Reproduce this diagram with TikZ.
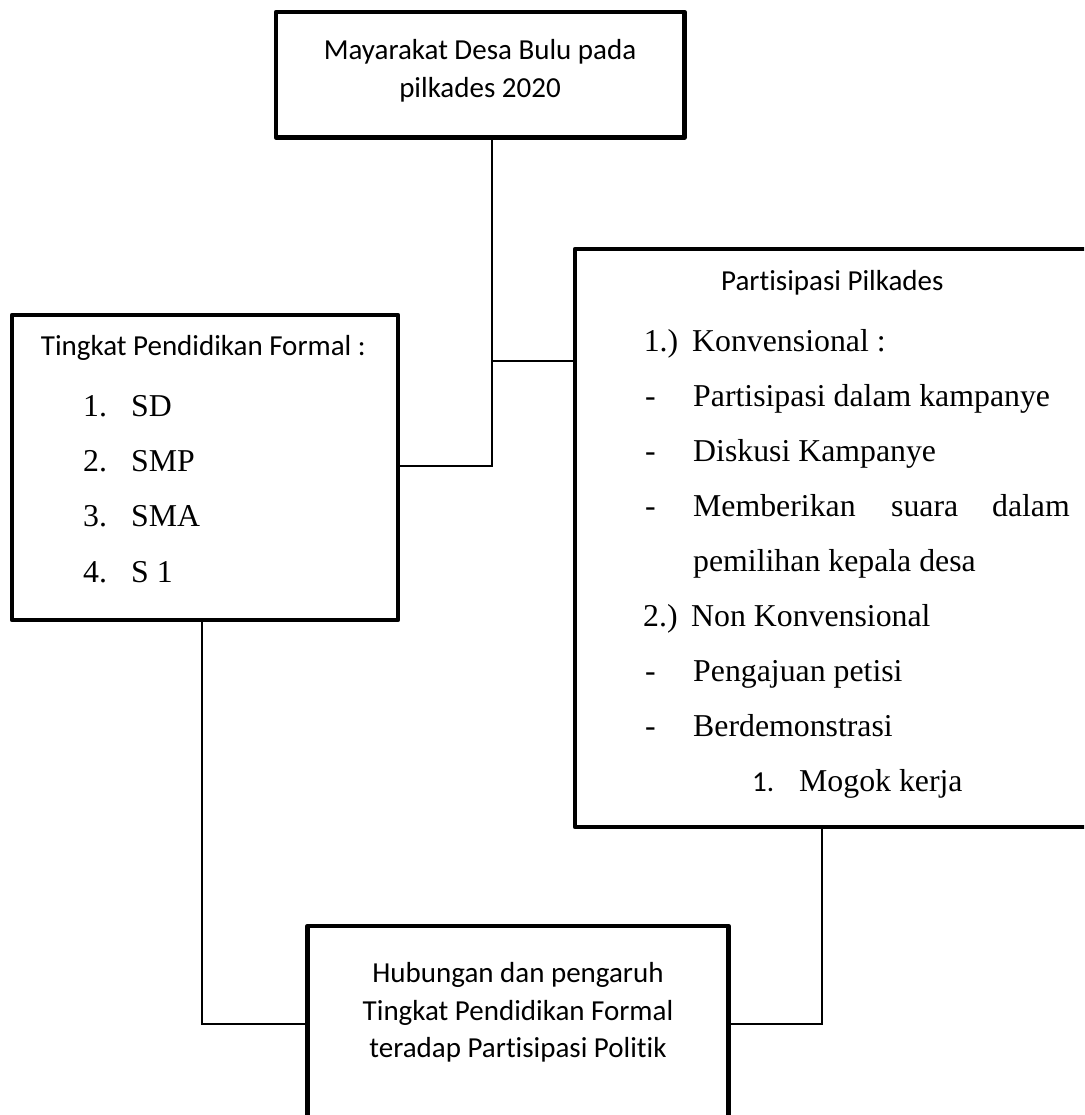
\documentclass[tikz,border=0pt]{standalone}
\usepackage{fontspec}
\setmainfont{Liberation Serif}
\newfontfamily\calfont[Ligatures=NoCommon]{Carlito}
\begin{document}
\begin{tikzpicture}[x=1pt,y=-1pt,
  box/.style={draw=black,line width=4.5pt,line join=round,rectangle,inner sep=0pt,outer sep=0pt,anchor=north west},
  conn/.style={draw=black,line width=1.3pt},
  cal/.style={font=\calfont\fontsize{29}{35}\selectfont,inner sep=0pt},
  tms/.style={font=\fontsize{31.8}{38}\selectfont,inner sep=0pt},
]
\useasboundingbox (0,0) rectangle (1084,1115);
\clip (0,0) rectangle (1084,1115);
\fill[white] (0,0) rectangle (1084,1115);

% boxes
\node[box,minimum width=408.5pt,minimum height=125.5pt] (top) at (276,12) {};
\node[box,minimum width=386pt,minimum height=305pt] (left) at (12,315) {};
\node[box,minimum width=525pt,minimum height=578pt] (right) at (575,249) {};
\node[box,minimum width=421pt,minimum height=220pt] (bottom) at (307.5,926) {};

% top box text
\node[cal,anchor=base] (t1) at (480,60) {Mayarakat Desa Bulu pada};
\node[cal,anchor=base] (t2) at (480,98) {pilkades 2020};

% left box text
\node[cal,anchor=base west] (l0) at (40.7,355) {Tingkat Pendidikan Formal :};
\node[tms,anchor=base west] (l1n) at (83,416.7) {1.};
\node[tms,anchor=base west] (l1) at (131,416.7) {SD};
\node[tms,anchor=base west] (l2n) at (83,471.7) {2.};
\node[tms,anchor=base west] (l2) at (131,471.7) {SMP};
\node[tms,anchor=base west] (l3n) at (83,526.7) {3.};
\node[tms,anchor=base west] (l3) at (131,526.7) {SMA};
\node[tms,anchor=base west] (l4n) at (83,582) {4.};
\node[tms,anchor=base west] (l4) at (131,582) {S 1};

% right box text
\node[cal,anchor=base west] (r0) at (721,290) {Partisipasi Pilkades};
\node[tms,anchor=base west] (r1n) at (643.6,351) {1.)};
\node[tms,anchor=base west] (r1) at (692,351) {Konvensional :};
\node[tms,anchor=base west] (d1) at (645,406) {-};
\node[tms,anchor=base west] (r2) at (693,406) {Partisipasi dalam kampanye};
\node[tms,anchor=base west] (d2) at (645,461) {-};
\node[tms,anchor=base west] (r3) at (693,461) {Diskusi Kampanye};
\node[tms,anchor=base west] (d3) at (645,516) {-};
\node[tms,anchor=base west] (r4a) at (693,516) {Memberikan};
\node[tms,anchor=base west] (r4b) at (891,516) {suara};
\node[tms,anchor=base east] (r4c) at (1070,516) {dalam};
\node[tms,anchor=base west] (r5) at (693,571) {pemilihan kepala desa};
\node[tms,anchor=base west] (r6n) at (643,626) {2.)};
\node[tms,anchor=base west] (r6) at (691,626) {Non Konvensional};
\node[tms,anchor=base west] (d4) at (645,681) {-};
\node[tms,anchor=base west] (r7) at (693,681) {Pengajuan petisi};
\node[tms,anchor=base west] (d5) at (645,736) {-};
\node[tms,anchor=base west] (r8) at (693,736) {Berdemonstrasi};
\node[cal,anchor=base west] (r9n) at (752,791) {1.};
\node[tms,anchor=base west] (r9) at (799,791) {Mogok kerja};

% bottom box text
\node[cal,anchor=base] (b1) at (518,982) {Hubungan dan pengaruh};
\node[cal,anchor=base] (b2) at (518,1020) {Tingkat Pendidikan Formal};
\node[cal,anchor=base] (b3) at (518,1057) {teradap Partisipasi Politik};

% connectors
\coordinate (jA) at (492,466);
\coordinate (jB) at (492,361);
\coordinate (jC) at (202,1024);
\coordinate (jD) at (822,1024);
\draw[conn] (top.south -| jA) -- (jA) -- (left.east |- jA);
\draw[conn] (jB) -- (right.west |- jB);
\draw[conn] (left.south -| jC) -- (jC) -- (bottom.west |- jC);
\draw[conn] (right.south -| jD) -- (jD) -- (bottom.east |- jD);
\end{tikzpicture}
\end{document}
